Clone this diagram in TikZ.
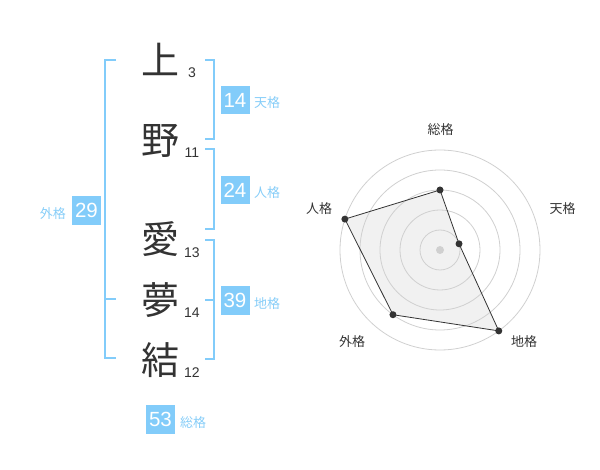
\documentclass[tikz,border=0pt]{standalone}
\usepackage{fontspec}
\newfontfamily\jp{Noto Sans CJK JP}
\newfontfamily\num{Liberation Sans}
\definecolor{kblue}{HTML}{82CCFA}
\definecolor{klabel}{HTML}{86CDF8}
\definecolor{kdark}{HTML}{333333}
\definecolor{kring}{HTML}{D0D0D0}
\definecolor{kfill}{HTML}{F1F1F1}
\tikzset{
  kanji/.style={inner sep=0pt, anchor=center, text=kdark, font=\jp\fontsize{38}{38}\selectfont},
  strokes/.style={inner sep=0pt, anchor=base, text=kdark, font=\num\fontsize{14}{14}\selectfont},
  sumbox/.style={fill=kblue, inner sep=0pt, minimum width=29pt, minimum height=28.5pt, text=white, font=\num\fontsize{20.5}{20.5}\selectfont},
  sumlabel/.style={inner sep=0pt, text=klabel, font=\jp\fontsize{13}{13}\selectfont},
  bracket/.style={draw=kblue, line width=2pt},
  ring/.style={draw=kring, line width=0.8pt},
  axislabel/.style={inner sep=0pt, text=kdark, font=\jp\fontsize{13}{13}\selectfont},
  dot/.style={circle, fill=kdark, inner sep=0pt, minimum size=7pt},
}
\begin{document}
\begin{tikzpicture}[x=1pt,y=-1pt]
\useasboundingbox (0,0) rectangle (600,470);
% kanji
\node[kanji] (k1) at (160,59) {上};
\node[kanji] (k2) at (160,140.5) {野};
\node[kanji] (k3) at (160,239.5) {愛};
\node[kanji] (k4) at (160,300) {夢};
\node[kanji] (k5) at (160,360) {結};
% stroke counts
\node[strokes] (s1) at (192,77.5) {3};
\node[strokes] (s2) at (192,157.5) {11};
\node[strokes] (s3) at (192,258) {13};
\node[strokes] (s4) at (192,318) {14};
\node[strokes] (s5) at (192,377.7) {12};
% brackets
\draw[bracket] (116,60) -- (104.7,60) -- (104.7,358.5) -- (116,358.5);
\draw[bracket] (104.7,299.5) -- (116,299.5);
\draw[bracket] (205,60) -- (214.3,60) -- (214.3,139.5) -- (205,139.5);
\draw[bracket] (205,149.5) -- (214.3,149.5) -- (214.3,229.5) -- (205,229.5);
\draw[bracket] (205,240) -- (214.3,240) -- (214.3,359) -- (205,359);
\draw[bracket] (205,300) -- (214.3,300);
% sum boxes
\node[sumbox] (ten) at (235,100.2) {14};
\node[sumlabel, anchor=base west] (tenl) at (254,108) {天格};
\node[sumbox] (jin) at (235,190.2) {24};
\node[sumlabel, anchor=base west] (jinl) at (254,198) {人格};
\node[sumbox] (chi) at (235,300.4) {39};
\node[sumlabel, anchor=base west] (chil) at (254,308.2) {地格};
\node[sumbox] (gai) at (86.5,210.4) {29};
\node[sumlabel, anchor=base east] (gail) at (66,218.2) {外格};
\node[sumbox] (sou) at (160.5,419.5) {53};
\node[sumlabel, anchor=base west] (soul) at (180,427.3) {総格};
% radar
\begin{scope}[shift={(440,250)}, yscale=-1]
  \fill[kfill] (90:60) -- (18:20) -- (-54:100) -- (-126:80) -- (162:100) -- cycle;
  \foreach \r in {20,40,60,80,100} { \draw[ring] (0,0) circle[radius=\r]; }
  \draw[kdark, line width=0.8pt] (90:60) -- (18:20) -- (-54:100) -- (-126:80) -- (162:100) -- cycle;
  \node[circle, fill=kring, inner sep=0pt, minimum size=8pt] (c0) at (0,0) {};
  \node[dot] (p1) at (90:60) {};
  \node[dot] (p2) at (18:20) {};
  \node[dot] (p3) at (-54:100) {};
  \node[dot] (p4) at (-126:80) {};
  \node[dot] (p5) at (162:100) {};
\end{scope}
\node[axislabel] (a1) at (440.5,130) {総格};
\node[axislabel] (a2) at (562.5,208.3) {天格};
\node[axislabel] (a3) at (524,341.7) {地格};
\node[axislabel] (a4) at (352,341.7) {外格};
\node[axislabel] (a5) at (319,209) {人格};
\end{tikzpicture}
\end{document}
